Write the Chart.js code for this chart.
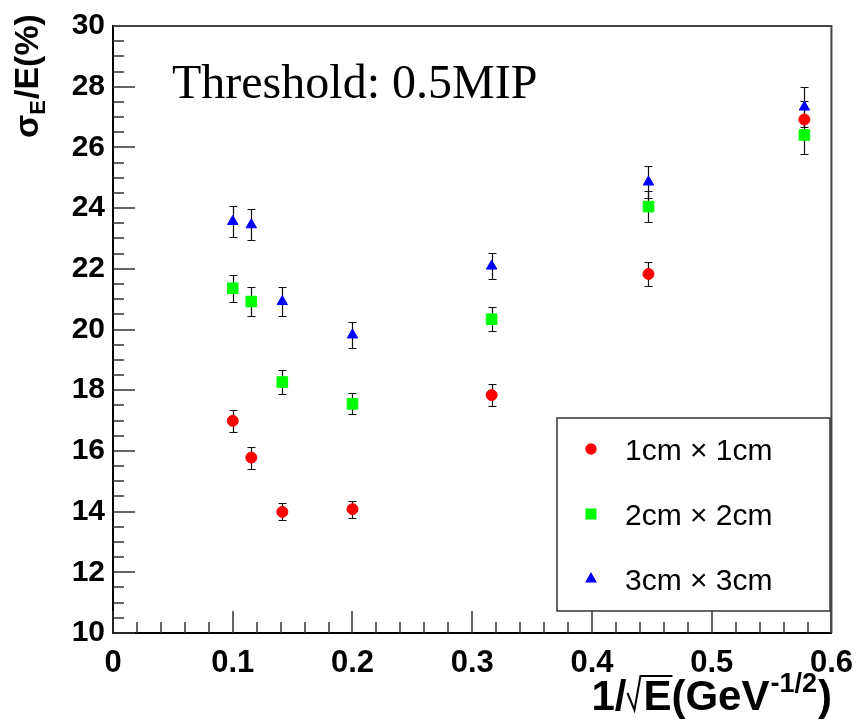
<!DOCTYPE html>
<html>
<head>
<meta charset="utf-8">
<title>Energy resolution vs 1/sqrt(E)</title>
<script src="https://cdn.jsdelivr.net/npm/chart.js@4.4.1/dist/chart.umd.min.js"></script>
<style>
  html, body { margin: 0; padding: 0; background: #fff; }
  canvas { display: block; }
</style>
</head>
<body>
<canvas id="resolutionChart" width="865" height="720"></canvas>
<script>
// 1/sqrt(E) for beam energies 100, 75, 50, 25, 10, 5, 3 GeV
const invSqrtE = [0.1, 0.1155, 0.1414, 0.2, 0.3162, 0.4472, 0.5774];

const seriesLabels = ['1cm \u00d7 1cm', '2cm \u00d7 2cm', '3cm \u00d7 3cm'];

// sigma_E / E in percent, with their errors
const res1cm = [16.99, 15.78, 13.99, 14.08, 17.84, 21.83, 26.92];
const err1cm = [0.37, 0.36, 0.28, 0.28, 0.36, 0.40, 0.60];
const res2cm = [21.36, 20.92, 18.27, 17.55, 20.34, 24.05, 26.41];
const err2cm = [0.45, 0.48, 0.39, 0.35, 0.40, 0.50, 0.62];
const res3cm = [23.56, 23.45, 20.92, 19.82, 22.09, 24.86, 27.33];
const err3cm = [0.52, 0.51, 0.47, 0.43, 0.43, 0.52, 0.65];

const xTicks = [0, 0.1, 0.2, 0.3, 0.4, 0.5, 0.6];
const yTicks = [10, 12, 14, 16, 18, 20, 22, 24, 26, 28, 30];

const thresholdText = 'Threshold: 0.5MIP';

const SANS = "'Liberation Sans', Arial, Helvetica, sans-serif";
const SERIF = "'Liberation Serif', 'Times New Roman', serif";

function points(ys) {
    return invSqrtE.map((x, i) => ({ x: x, y: ys[i] }));
}

// ROOT style frame: inward ticks on left/bottom, plain lines top/right
const framePlugin = {
    id: 'frame',
    beforeDatasetsDraw(chart) {
        const { ctx, chartArea: a, scales: { x, y } } = chart;
        ctx.save();
        ctx.strokeStyle = '#333';
        ctx.lineWidth = 1.5;
        ctx.beginPath();
        for (let k = 0; k <= 40; k++) {
            const py = Math.round(y.getPixelForValue(y.min + k * 0.5));
            const len = k % 4 === 0 ? 22 : 11;
            ctx.moveTo(a.left, py);
            ctx.lineTo(a.left + len, py);
        }
        for (let k = 0; k <= 30; k++) {
            const px = Math.round(x.getPixelForValue(x.min + k * 0.02));
            const len = k % 5 === 0 ? 22 : 11;
            ctx.moveTo(px, a.bottom);
            ctx.lineTo(px, a.bottom - len);
        }
        ctx.stroke();

        ctx.strokeStyle = '#444';
        ctx.lineWidth = 2;
        ctx.beginPath();
        ctx.moveTo(a.left, a.top);
        ctx.lineTo(a.right, a.top);
        ctx.lineTo(a.right, a.bottom);
        ctx.stroke();
        ctx.restore();
    }
};

const errorBarPlugin = {
    id: 'errorBars',
    beforeDatasetsDraw(chart) {
        const { ctx, scales: { x, y } } = chart;
        ctx.save();
        ctx.strokeStyle = '#111';
        ctx.lineWidth = 1.2;
        chart.data.datasets.forEach(ds => {
            ds.data.forEach((p, i) => {
                const px = Math.round(x.getPixelForValue(p.x)) + 0.5;
                const top = Math.round(y.getPixelForValue(p.y + ds.errors[i])) + 0.5;
                const bot = Math.round(y.getPixelForValue(p.y - ds.errors[i])) + 0.5;
                ctx.beginPath();
                ctx.moveTo(px, top);
                ctx.lineTo(px, bot);
                ctx.moveTo(px - 4, top);
                ctx.lineTo(px + 4, top);
                ctx.moveTo(px - 4, bot);
                ctx.lineTo(px + 4, bot);
                ctx.stroke();
            });
        });
        ctx.restore();
    }
};

const textPlugin = {
    id: 'texts',
    afterDraw(chart) {
        const { ctx } = chart;
        ctx.save();
        ctx.fillStyle = '#000';
        ctx.textBaseline = 'alphabetic';

        // annotation
        ctx.font = '48px ' + SERIF;
        ctx.textAlign = 'left';
        ctx.fillText(thresholdText, 172, 98);

        // legend box
        const box = { l: 557, t: 418, r: 830, b: 611 };
        ctx.fillStyle = '#fff';
        ctx.fillRect(box.l, box.t, box.r - box.l, box.b - box.t);
        ctx.strokeStyle = '#333';
        ctx.lineWidth = 1.5;
        ctx.strokeRect(box.l, box.t, box.r - box.l, box.b - box.t);
        ctx.font = '30px ' + SANS;
        chart.data.datasets.forEach((ds, i) => {
            const cy = 449 + i * 65;
            ctx.fillStyle = ds.backgroundColor;
            ctx.strokeStyle = ds.backgroundColor;
            Chart.helpers.drawPoint(ctx, {
                pointStyle: ds.pointStyle,
                radius: ds.pointRadius * 0.9,
                rotation: 0,
                borderWidth: 1
            }, 591, cy);
            ctx.fillStyle = '#000';
            ctx.textBaseline = 'middle';
            ctx.fillText(ds.label, 625, cy + 3);
        });

        // x axis title: 1/sqrt(E)(GeV^-1/2), right aligned
        ctx.textBaseline = 'alphabetic';
        const big = 'bold 42px ' + SANS;
        const small = 'bold 27px ' + SANS;
        const base = 710;
        ctx.font = big;
        const w1 = ctx.measureText('1/').width;
        const wE = ctx.measureText('E').width;
        const w2 = ctx.measureText('(GeV').width;
        const w4 = ctx.measureText(')').width;
        ctx.font = small;
        const w3 = ctx.measureText('-1/2').width;
        const rad = 17;
        let cx = 832 - (w1 + rad + wE + w2 + w3 + w4 + 2);
        ctx.font = big;
        ctx.fillText('1/', cx, base);
        cx += w1;
        ctx.strokeStyle = '#000';
        ctx.lineWidth = 2;
        ctx.beginPath();
        ctx.moveTo(cx + 1, base - 17);
        ctx.lineTo(cx + 8, base);
        ctx.lineTo(cx + 14, base - 34);
        ctx.lineTo(cx + rad + wE + 1, base - 34);
        ctx.stroke();
        cx += rad;
        ctx.fillText('E', cx, base);
        cx += wE;
        ctx.fillText('(GeV', cx, base);
        cx += w2 + 1;
        ctx.font = small;
        ctx.fillText('-1/2', cx, base - 18);
        cx += w3 + 1;
        ctx.font = big;
        ctx.fillText(')', cx, base);

        // y axis title: sigma_E/E(%)
        ctx.translate(38, 138);
        ctx.rotate(-Math.PI / 2);
        ctx.font = 'bold 34px ' + SANS;
        ctx.fillText('\u03c3', 0, 0);
        let ty = ctx.measureText('\u03c3').width;
        ctx.font = 'bold 22px ' + SANS;
        ctx.fillText('E', ty, 7);
        ty += ctx.measureText('E').width + 1;
        ctx.font = 'bold 34px ' + SANS;
        ctx.fillText('/E(%)', ty, 0);
        ctx.restore();
    }
};

const ctx = document.getElementById('resolutionChart').getContext('2d');
const chart = new Chart(ctx, {
    type: 'scatter',
    data: {
        datasets: [
            {
                label: seriesLabels[0],
                data: points(res1cm),
                errors: err1cm,
                pointStyle: 'circle',
                pointRadius: 5.5,
                backgroundColor: '#ff0000',
                borderColor: '#ff0000',
                borderWidth: 1
            },
            {
                label: seriesLabels[1],
                data: points(res2cm),
                errors: err2cm,
                pointStyle: 'rect',
                pointRadius: 7.5,
                backgroundColor: '#00ff00',
                borderColor: '#00ff00',
                borderWidth: 1
            },
            {
                label: seriesLabels[2],
                data: points(res3cm),
                errors: err3cm,
                pointStyle: 'triangle',
                pointRadius: 6,
                backgroundColor: '#0000ff',
                borderColor: '#0000ff',
                borderWidth: 1
            }
        ]
    },
    options: {
        responsive: false,
        animation: false,
        devicePixelRatio: 1,
        layout: { padding: { top: 16, right: 22, left: 0, bottom: 0 } },
        plugins: {
            legend: { display: false },
            tooltip: { enabled: false }
        },
        scales: {
            x: {
                type: 'linear',
                min: 0,
                max: 0.6,
                afterBuildTicks: s => { s.ticks = xTicks.map(v => ({ value: v })); },
                afterFit: s => { s.height = 87; },
                grid: { display: false, drawTicks: false },
                border: { display: true, color: '#000', width: 2 },
                ticks: {
                    color: '#000',
                    padding: 12,
                    maxRotation: 0,
                    font: { family: SANS, size: 31, weight: 'bold' },
                    callback: v => String(+v.toFixed(1))
                }
            },
            y: {
                type: 'linear',
                min: 10,
                max: 30,
                afterBuildTicks: s => { s.ticks = yTicks.map(v => ({ value: v })); },
                afterFit: s => { s.width = 113; },
                grid: { display: false, drawTicks: false },
                border: { display: true, color: '#000', width: 2 },
                ticks: {
                    color: '#000',
                    padding: 8,
                    font: { family: SANS, size: 30, weight: 'bold' },
                    callback: v => String(v)
                }
            }
        }
    },
    plugins: [framePlugin, errorBarPlugin, textPlugin]
});
</script>
</body>
</html>
